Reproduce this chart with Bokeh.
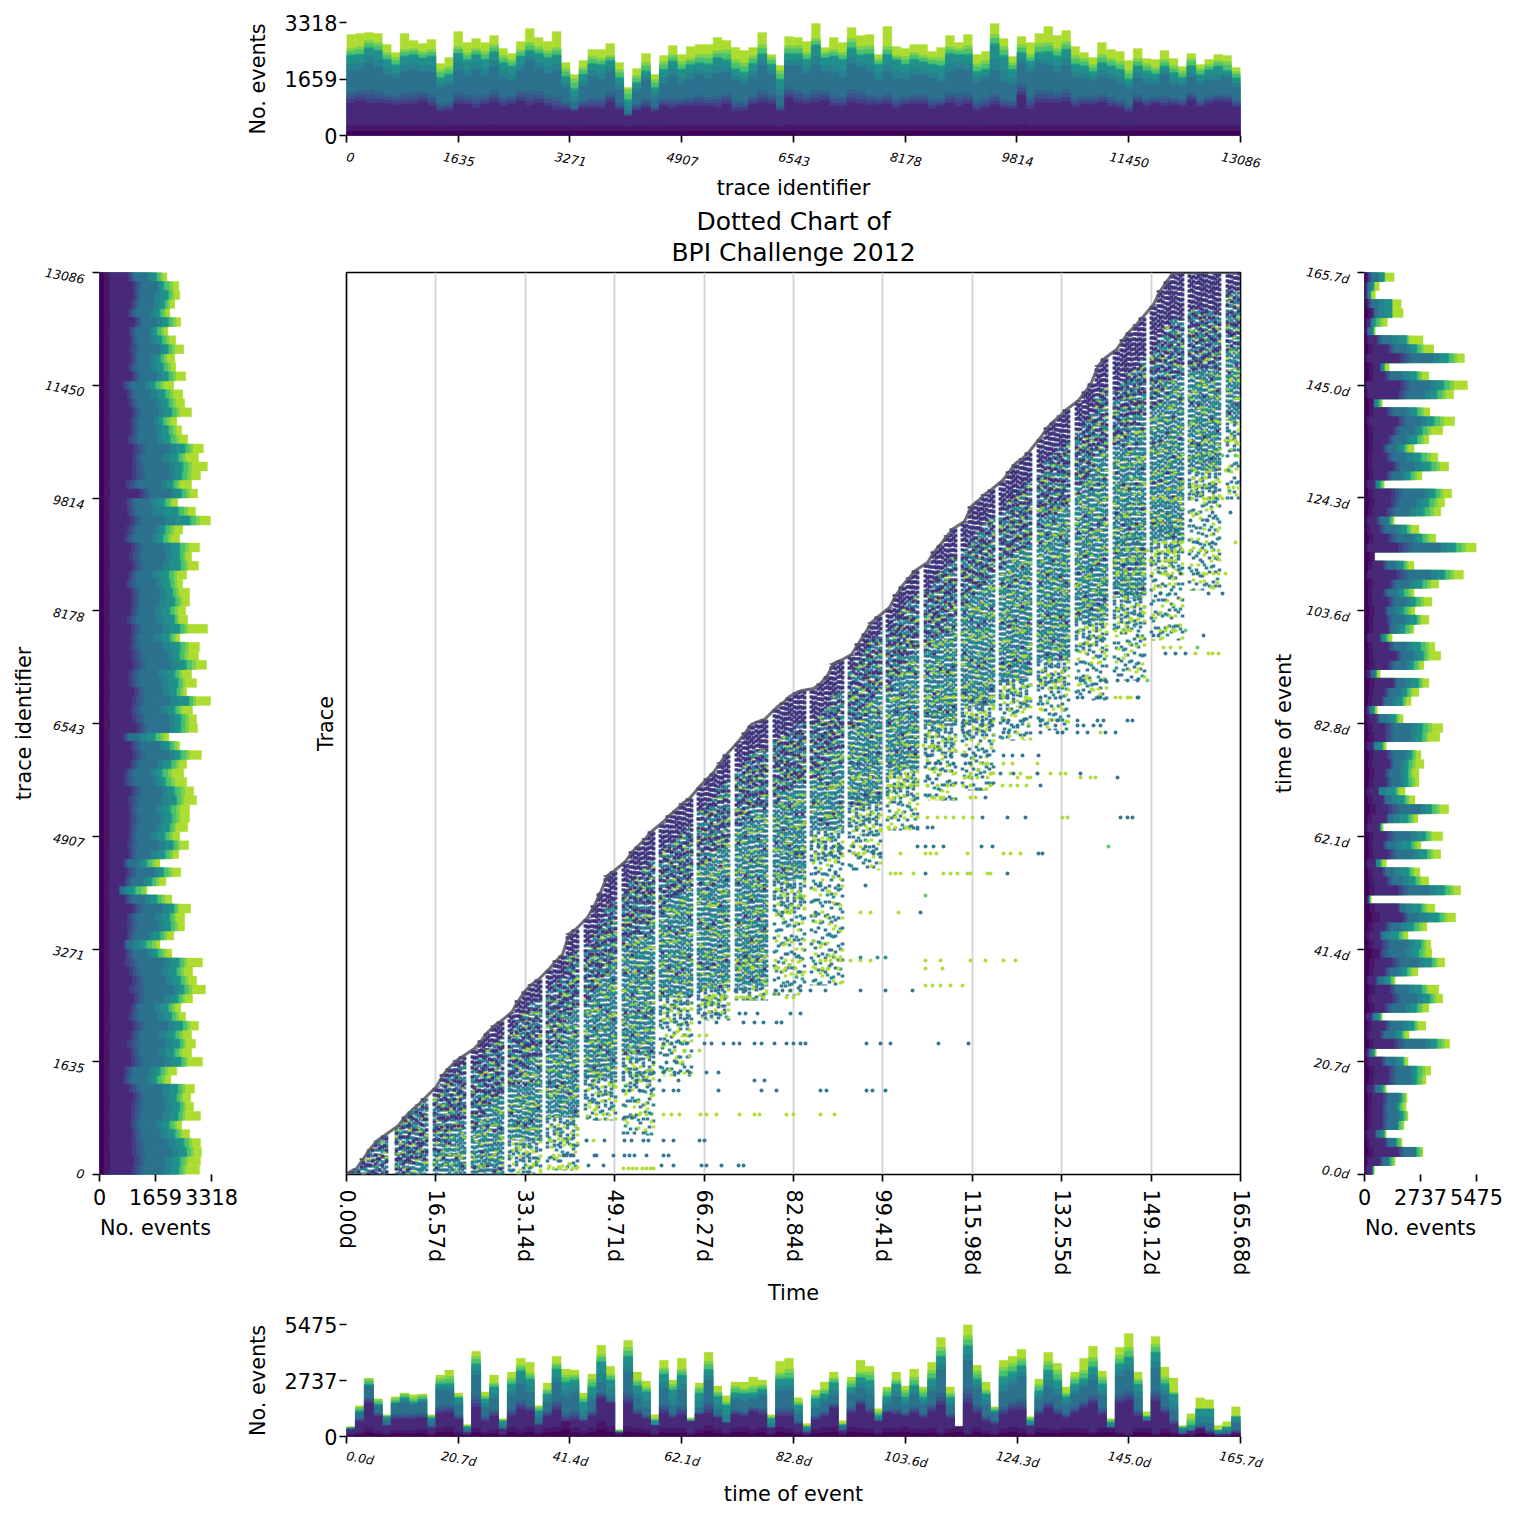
from math import pi
from bokeh.embed import file_html
from bokeh.resources import INLINE
from bokeh.layouts import column, row
from bokeh.models import ColumnDataSource, FixedTicker, LinearAxis, Range1d, Title
from bokeh.plotting import figure

MAX_TRACE = 13086
MAX_DAYS = 165.68
MAX_DAYS_HIST = 165.7
MAX_TRACE_HIST = 3318
MAX_TIME_HIST = 5475
def day(px): return (px - 346) * MAX_DAYS / 894
def tr(py): return (1174 - py) * MAX_TRACE / 902
def ev_trace(rs): return [(360 - r) * MAX_TRACE_HIST / 339 for r in rs]
def ev_time(rs): return [(351 - r) * MAX_TIME_HIST / 339 for r in rs]

trace_ticks = [0, 1635, 3271, 4907, 6543, 8178, 9814, 11450, 13086]
trace_labels = ["0", "1635", "3271", "4907", "6543", "8178", "9814", "11450", "13086"]
time_ticks = [0, 20.7, 41.4, 62.1, 82.8, 103.6, 124.3, 145.0, 165.7]
time_labels = ["0.0d", "20.7d", "41.4d", "62.1d", "82.8d", "103.6d", "124.3d", "145.0d", "165.7d"]
main_ticks = [0, 16.57, 33.14, 49.71, 66.27, 82.84, 99.41, 115.98, 132.55, 149.12, 165.68]
main_labels = ["0.00d", "16.57d", "33.14d", "49.71d", "66.27d", "82.84d", "99.41d", "115.98d", "132.55d", "149.12d", "165.68d"]

# ---- events per trace-identifier bin: level tops for each activity group ----
trace_total = ev_trace([57,54,51,54,87,111,54,75,84,72,144,126,48,81,69,81,60,99,114,78,39,66,78,48,141,177,135,102,102,84,141,216,159,114,177,120,90,117,93,87,87,66,75,96,105,96,51,117,150,63,
 66,78,24,96,66,81,36,60,57,117,33,93,99,87,87,108,96,60,81,57,117,108,24,69,123,63,81,54,33,60,45,93,111,126,81,102,108,135,99,129,132,105,129,153,114,147,132,117,120,156])
trace_green = ev_trace([99,93,75,81,111,126,102,99,108,102,162,153,93,111,99,108,87,120,132,102,81,93,105,96,159,189,156,123,129,120,162,222,180,141,192,138,117,138,129,117,117,105,102,132,141,120,87,126,165,90,
 90,111,69,108,102,111,69,93,90,129,93,120,123,111,120,126,126,93,99,90,144,135,57,93,141,87,117,84,81,99,78,120,129,147,117,129,138,165,129,144,156,132,150,165,129,159,147,135,138,168])
trace_teal = ev_trace([122,120,100,108,135,152,125,120,130,125,190,180,117,137,120,135,112,145,155,125,108,118,130,122,187,225,180,148,150,137,190,258,205,170,220,165,140,165,150,145,150,130,138,165,175,148,120,150,195,118,
 118,135,92,130,125,135,102,122,120,150,120,135,150,135,142,150,155,118,120,122,172,165,90,125,165,115,140,115,112,125,105,150,155,172,145,155,165,195,155,170,178,155,175,190,155,180,165,155,170,190])
trace_blue = ev_trace([165,162,142,155,178,190,168,162,168,170,218,210,165,182,162,180,155,185,195,165,135,160,175,165,215,258,212,182,192,170,222,285,228,195,245,205,180,205,190,178,190,175,170,195,205,185,150,178,240,150,
 150,175,148,168,175,185,145,155,170,195,170,190,192,180,178,188,200,170,160,165,200,190,165,200,205,145,172,145,150,172,150,185,190,195,182,190,205,220,188,205,205,178,205,210,185,205,195,195,185,215])
trace_purple = ev_trace([262,256,263,263,263,268,266,265,258,272,288,285,265,267,278,267,260,272,266,257,270,262,272,284,282,288,278,278,278,260,284,303,285,278,288,272,278,272,272,270,272,275,265,287,285,268,261,265,288,248,
 262,265,262,255,272,272,260,265,270,267,265,278,268,265,265,280,272,262,272,265,285,278,268,277,280,238,281,262,262,262,258,275,267,268,262,272,278,290,262,272,265,272,268,272,255,275,265,258,260,275])
trace_dark = ev_trace([330,328,330,331,330,330,331,330,329,331,332,331,330,330,331,330,328,331,330,329,330,330,330,331,331,332,331,331,330,330,331,333,331,330,332,331,330,330,330,330,330,330,330,331,331,330,329,330,332,328,
 330,331,330,329,330,331,329,330,330,330,329,331,330,330,330,331,331,329,330,330,332,331,329,331,331,328,331,329,329,330,329,330,330,331,330,330,331,332,330,330,330,330,330,331,329,330,330,330,330,331])
trace_base = ev_trace([347] * 100)

# ---- events per time bin ----
time_total = ev_time([321,258,174,237,285,231,219,225,222,285,165,150,219,315,93,216,165,297,156,114,126,258,189,108,147,150,219,162,75,138,330,60,156,183,285,120,180,114,294,189,96,198,228,186,186,171,180,285,123,114,
 234,312,210,186,156,303,171,120,138,267,201,156,198,147,201,126,51,201,324,12,135,186,261,120,108,87,291,177,96,129,201,156,114,78,153,297,81,39,156,276,48,141,174,318,282,234,240,318,306,261])
time_green = ev_time([323,262,177,240,288,235,222,234,226,288,174,168,228,318,108,228,189,300,174,135,159,262,207,129,165,165,232,177,102,162,333,81,180,201,297,144,192,147,297,201,123,216,246,198,207,198,195,291,159,147,
 246,318,225,207,174,312,183,156,156,276,207,180,210,171,210,150,81,219,327,45,153,210,264,141,129,114,294,192,123,150,219,171,150,111,171,300,105,81,177,288,72,171,216,321,297,267,267,330,321,288])
time_teal = ev_time([325,275,195,255,292,250,235,248,240,296,195,195,235,322,135,240,203,305,195,155,180,275,225,150,190,182,250,205,128,182,336,112,200,218,304,165,212,168,303,222,152,232,258,222,222,222,210,298,180,180,
 258,322,238,225,190,316,205,175,185,288,232,195,235,200,235,180,112,235,330,80,180,225,275,175,160,140,305,215,155,185,232,195,180,145,195,310,135,115,195,292,100,195,225,325,320,268,268,333,323,292])
time_blue = ev_time([328,280,198,258,305,252,248,255,248,305,212,212,258,330,165,262,235,322,228,192,218,295,248,188,228,218,292,240,188,228,340,155,235,262,320,205,258,210,315,265,180,270,308,240,245,240,228,322,212,210,
 285,330,265,245,228,320,225,205,225,300,255,230,258,225,255,215,150,258,335,122,205,255,280,215,195,170,315,240,200,225,255,225,200,180,225,320,170,150,235,300,145,225,270,330,330,310,310,340,335,310])
time_purple = ev_time([330,305,250,290,320,298,298,298,295,325,280,278,300,340,262,305,290,330,290,268,275,318,290,270,305,300,305,290,235,250,340,250,285,298,318,280,295,285,305,285,280,295,310,285,290,275,285,325,290,290,
 315,340,300,290,265,335,280,255,280,305,280,285,290,280,295,275,255,295,330,250,280,305,315,285,272,270,320,285,265,285,295,280,265,250,285,325,250,243,290,305,245,280,315,345,335,325,340,345,345,340])
time_dark = ev_time([345,340,325,335,342,332,332,332,330,342,325,322,338,345,325,338,332,345,322,332,322,340,325,322,305,325,335,325,305,320,342,320,325,330,342,325,328,325,342,330,318,328,338,325,322,330,325,342,322,328,
 338,345,330,325,322,342,322,325,328,340,325,326,322,328,330,326,340,328,320,342,325,335,342,328,322,328,342,325,328,330,325,326,328,338,325,325,340,345,325,325,343,328,340,345,345,330,342,350,350,342])
time_base = [v * 0.45 for v in time_dark]

# ---- working-day columns of the dotted chart: pixel readings of the outline ----
week_columns = [
 [350,356,363,370,377,384],[398,405,411,418,424],[436,443,449,456,462],[474,481,487,494,500],[511,518,525,531,538],
 [549,556,562,569,575],[587,594,600,607,613],[625,632,638,645,651],[662,669,676,682,689],[700,707,713,720,726],
 [738,745,751,758,764],[776,783,789,796,802],[813,820,827,833,840],[851,858,865,871,878],[889,896,902,909,915],
 [927,934,940,947,953],[964,971,978,984,991],[1002,1009,1015,1022,1028],[1040,1047,1053,1060,1066],[1078,1085,1091,1098,1104],
 [1116,1123,1129,1136,1142],[1153,1160,1167,1173,1180],[1191,1198,1204,1211,1217],[1229,1236]]
week_tops = [
 [1171,1168,1158,1148,1140,1135],[1125,1116,1110,1104,1098],[1086,1074,1067,1060,1056],[1048,1040,1032,1025,1021],[1012,1000,990,984,979],
 [968,960,954,933,929],[917,905,892,875,871],[861,851,845,838,831],[822,815,809,803,798],[785,778,772,762,754],
 [741,732,724,721,719],[707,702,696,692,690],[688,683,675,663,660],[654,643,632,622,616],[607,594,585,577,570],
 [562,551,544,535,528],[521,506,500,494,489],[480,471,463,458,452],[437,427,421,415,409],[400,391,382,365,358],
 [349,339,331,324,317],[304,290,280,272,272],[272,272,272,272,272],[272,272]]
week_purple = [1150,1125,1095,1065,1030,990,945,890,850,810,770,740,720,670,630,590,550,510,470,430,390,350,310,290]
week_dense = [1174,1174,1174,1174,1140,1117,1077,1055,997,988,985,880,830,805,770,725,705,677,660,620,597,540,470,420]
week_sparse = [1174,1174,1174,1174,1174,1170,1120,1135,1076,1020,1000,995,985,870,830,800,790,740,730,700,680,640,590,500]

sparse_rows = [
 (1168,"Y",[548,553,560,566,572,576,623,628,632,636,642,646,650,653]),
 (1165,"B",[588,603,661,673,701,706,721,738,743]),
 (1155,"B",[563,566,570,573,594,596,613,624,629,634,646,663,668]),
 (1155,"Y",[553,559]),
 (1140,"B",[586,604,624,631,643,648,663,673,699,704]),
 (1140,"Y",[586,593]),
 (1117,"B",[624,631]),
 (1114,"Y",[596,603,639,646,663,671,679,700,706,716,739,754,759,786,793,820,834]),
 (1090,"B",[623,629,639,651,663,673,678,718,761,776,820,826,866,872,885]),
 (1080,"B",[636,646,659,678,754,764]),
 (1072,"B",[623,629,639,653,663,674,689,706,718]),
 (1062,"B",[653,666,676]),
 (1050,"Y",[674,684,699]),
 (1043,"B",[663,671,686,704,711,723,733,739,754,761,774,786,793,800,805,866,880,890,938,968]),
 (1035,"Y",[666,673,686,699,706]),
 (1022,"B",[686,699,716,743,754,763,776,781]),
 (1013,"B",[704,716,739,745,757,790,800]),
 (997,"Y",[706,711,721,736,743,750,763,786,793]),
 (990,"B",[700,715,735,745,775,782,790,800,810,825,860,885,912]),
 (985,"Y",[925,932,940,950,962]),
 (968,"Y",[740,752,775,785,795,815,822,828,838,925,942]),
 (960,"Y",[737,745,752,760,775,785,792,800,820,825,830,840,850,860,870,925,940,970,985,1003,1015]),
 (957,"T",[860,877,885]),
 (912,"Y",[780,790,860,870,898]),
 (912,"B",[920,782,815]),
 (895,"G",[780,800,925]),
 (885,"B",[790,820,838,865]),
 (873,"Y",[890,895,900,913,943,950,957,967,970,987,990]),
 (873,"B",[925,1007,815,835]),
 (853,"Y",[853,858,863,900,925,930,936,967,1003,1010,1020]),
 (853,"B",[823,830,840,873,880,1038,1042]),
 (846,"B",[818,825,833,840,853,865,873,917,925,933,943,981,992]),
 (846,"G",[1108]),
 (827,"Y",[888,895,905]),
 (827,"B",[917,927,932]),
 (817,"Y",[888,895,917,927,937,945,953,963,972,1062,1067]),
 (817,"B",[982,1007,1025,1120,1127,1132]),
 (797,"B",[852,857,868,878,985]),
 (797,"Y",[888,893,932,940,943,970,975]),
 (785,"Y",[888,898,910,917,927,937,947,953,963,970,990,1002,1010,1017,1026]),
 (785,"B",[1040]),
 (777,"Y",[852,858,870,890,900,907,970,977,987,1017,1027,1030,1080,1090,1095]),
 (777,"B",[927,1117]),
 (773,"Y",[890,905,970,990,1010,1020,1037,1050,1060,1065]),
 (773,"B",[1000,1013,1037,1080]),
 (763,"B",[852,860,873,877,890,927,935,940,953,965,970]),
 (763,"Y",[987,1003,1012,1037]),
 (755,"B",[867,877,927,930,950,965,975,987,1003,1012,1022,1038]),
 (745,"Y",[907,917,923,932]),
 (732,"B",[963,967,1003,1008,1040,1057,1062,1077,1087,1105,1115]),
 (732,"Y",[1062,1100]),
 (725,"B",[963,982,992,1017,1040,1055,1077,1083,1093,1100]),
 (720,"B",[963,973,982,990,1003,1008,1023,1040,1057,1077,1097,1103,1127,1132]),
 (697,"Y",[927,945,953,963,970,980,990,1003,1025,1040,1115,1120,1127,1130]),
 (697,"B",[1007,1040,1060,1077,1082,1098,1100,1137,1138]),
 (680,"B",[1003,1007,1013,1023,1040,1055,1080,1083,1100,1105,1117,1127,1137]),
 (680,"Y",[1057,1060,1090]),
 (680,"G",[1147]),
 (653,"B",[1165,1175,1185]),
 (653,"Y",[1195,1208,1212,1218]),
 (647,"Y",[1163,1170,1180]),
 (647,"G",[1197]),
 (635,"B",[1137,1153,1158,1203]),
 (630,"Y",[1115,1122,1127,1130,1160,1165,1172,1175]),
 (630,"G",[1185]),
 (593,"B",[1127,1137,1160,1208,1222]),
 (573,"Y",[1117,1125,1133,1143,1152,1165,1172,1180,1197,1203,1213,1218,1225]),
 (573,"B",[1180,1197]),
 (560,"Y",[1115,1123,1133,1143,1150,1165,1168,1170,1175]),
 (550,"Y",[1117,1127,1137,1147,1157,1167,1175,1190,1200,1205,1212,1218]),
 (542,"B",[1117,1123,1133,1137,1197,1212]),
 (542,"Y",[1155,1165,1172,1180,1235]),
 (530,"B",[1160,1170,1175]),
 (520,"Y",[1153,1160,1180]),
 (520,"B",[1190,1207]),
 (512,"B",[1167,1212,1230]),
 (498,"Y",[1153,1165,1175,1180,1192,1203,1207,1212,1222]),
 (492,"B",[1197,1213]),
 (487,"Y",[1182,1195,1228,1233]),
 (470,"Y",[1195,1210,1225]),
 (455,"G",[1210,1222,1235]),
 (440,"Y",[1190,1205,1225,1235]),
 (405,"B",[1232,1238]),
 (380,"Y",[1230,1238]),
]

COL = {"Y": "#addc30", "G": "#5ec962", "T": "#21918c", "B": "#2c728e", "P": "#472d7b"}
FONT = "DejaVu Sans"
SMALL_PX = 12.5

def style_axis(ax):
    ax.axis_line_color = None
    ax.major_tick_line_color = "black"
    ax.major_tick_line_width = 1.67
    ax.major_tick_out = 7
    ax.major_tick_in = 0
    ax.minor_tick_line_color = None
    ax.axis_label_text_font = FONT
    ax.axis_label_text_font_size = "20.8px"
    ax.axis_label_text_font_style = "normal"
    ax.axis_label_text_color = "black"
    ax.major_label_text_font = FONT
    ax.major_label_text_color = "black"
    ax.major_label_text_font_size = "20.8px"
    ax.major_label_text_font_style = "normal"

def text_width(s):
    return sum(0.318 if ch == "." else 0.636 for ch in s) * SMALL_PX

def label_axis(positions, labels, axis_label, standoff, label_standoff):
    """Axis that carries only the small slanted labels; the tick marks stay on the figure's own axis."""
    ax = LinearAxis(ticker=FixedTicker(ticks=positions), major_label_overrides=dict(zip(positions, labels)), axis_label=axis_label)
    style_axis(ax)
    ax.major_tick_line_color = None
    ax.major_tick_out = 0
    ax.major_label_text_font_size = f"{SMALL_PX}px"
    ax.major_label_text_font_style = "italic"
    ax.major_label_orientation = -0.18
    ax.major_label_standoff = standoff
    ax.axis_label_standoff = label_standoff
    return ax

def layer_bounds(dark0, dark1, purple, blue, teal, green, total):
    """(colour, bar top) from the top of the stack downwards."""
    out = [("#addc30", total)]
    out.append(("#7ad151", green))
    out.append(("#4ac16d", [g + 0.35 * (t - g) for g, t in zip(green, teal)]))
    out.append(("#1fa187", [t + 0.18 * (g - t) for g, t in zip(green, teal)]))
    out.append(("#21908c", teal))
    out.append(("#26828e", [b + 0.45 * (t - b) for b, t in zip(blue, teal)]))
    out.append(("#2c728e", blue))
    out.append(("#33638d", [p + 0.33 * (b - p) for p, b in zip(purple, blue)]))
    out.append(("#3b528b", [p + 0.22 * (b - p) for p, b in zip(purple, blue)]))
    out.append(("#433e85", [p + 0.11 * (b - p) for p, b in zip(purple, blue)]))
    out.append(("#482979", purple))
    out.append(("#481769", dark1))
    out.append(("#440154", dark0))
    return out

def draw_hist(fig, layers, maximum, horizontal):
    lo = [maximum * i / 100 for i in range(100)]
    hi = [maximum * (i + 1) / 100 for i in range(100)]
    zero = [0] * 100
    for colour, tops in layers:
        if horizontal:
            fig.quad(left=zero, right=tops, bottom=lo, top=hi, fill_color=colour, line_color=colour, line_width=0.3)
        else:
            fig.quad(left=lo, right=hi, bottom=zero, top=tops, fill_color=colour, line_color=colour, line_width=0.3)

trace_layers = layer_bounds(trace_base, trace_dark, trace_purple, trace_blue, trace_teal, trace_green, trace_total)
time_layers = layer_bounds(time_base, time_dark, time_purple, time_blue, time_teal, time_green, time_total)

def hist_h(w, h, left, right, top, bottom, xmax, ymax, ticks, labels, xlabel, ytick, standoff, margin):
    f = figure(width=w, height=h, min_border_left=left, min_border_right=right, min_border_top=top,
               min_border_bottom=bottom, x_range=Range1d(0, xmax), y_range=Range1d(0, ymax),
               output_backend="svg", toolbar_location=None, outline_line_color=None, margin=margin)
    f.grid.visible = False
    f.xaxis.ticker = FixedTicker(ticks=ticks)
    f.xaxis.major_label_overrides = {t: "" for t in ticks}
    f.yaxis.ticker = FixedTicker(ticks=ytick)
    f.yaxis.axis_label = "No. events"
    style_axis(f.xaxis[0])
    style_axis(f.yaxis[0])
    f.xaxis.major_label_standoff = 0
    f.yaxis.major_label_standoff = 2
    f.yaxis.axis_label_standoff = 12
    # the labels hang from the tick centre in the reference
    pos = [round(max(0, t + (1 - text_width(s) / 2) * xmax / 894), 3) for t, s in zip(ticks, labels)]
    f.add_layout(label_axis(pos, labels, xlabel, standoff, 1), "below")
    return f

def hist_v(w, h, left, right, top, bottom, xmax, ymax, ticks, labels, ylabel, xtick):
    f = figure(width=w, height=h, min_border_left=left, min_border_right=right, min_border_top=top,
               min_border_bottom=bottom, x_range=Range1d(0, xmax), y_range=Range1d(0, ymax),
               output_backend="svg", toolbar_location=None, outline_line_color=None)
    f.grid.visible = False
    f.yaxis.ticker = FixedTicker(ticks=ticks)
    f.yaxis.major_label_overrides = {t: "" for t in ticks}
    f.xaxis.ticker = FixedTicker(ticks=xtick)
    f.xaxis.axis_label = "No. events"
    style_axis(f.yaxis[0])
    style_axis(f.xaxis[0])
    f.yaxis.major_label_standoff = 0
    f.xaxis.major_label_standoff = 7
    f.xaxis.axis_label_standoff = 8
    pos = [round(max(0, t - 7 * ymax / 902), 3) for t in ticks]
    f.add_layout(label_axis(pos, labels, ylabel, 8, 5), "left")
    return f

top = hist_h(1500, 203, 346, 260, 22, 68, MAX_TRACE, MAX_TRACE_HIST, trace_ticks, trace_labels, "trace identifier", [0, 1659, 3318], 14, (0, 0, -4, 0))
draw_hist(top, trace_layers, MAX_TRACE, False)
bot = hist_h(1500, 200, 346, 260, 15, 72, MAX_DAYS_HIST, MAX_TIME_HIST, time_ticks, time_labels, "time of event", [0, 2737, 5475], 12, (0, 0, 0, 0))
draw_hist(bot, time_layers, MAX_DAYS_HIST, False)
left = hist_v(299, 1110, 99, 88, 73, 135, MAX_TRACE_HIST, MAX_TRACE, trace_ticks, trace_labels, "trace identifier", [0, 1659, 3318])
draw_hist(left, trace_layers, MAX_TRACE, True)
right = hist_v(241, 1110, 99, 30, 73, 135, MAX_TIME_HIST, MAX_DAYS_HIST, time_ticks, time_labels, "time of event", [0, 2737, 5475])
draw_hist(right, time_layers, MAX_DAYS_HIST, True)

# ---- main dotted chart ----
main = figure(width=966, height=1110, min_border_left=47, min_border_right=25, min_border_top=73, min_border_bottom=135,
              x_range=Range1d(0, MAX_DAYS), y_range=Range1d(0, MAX_TRACE), output_backend="svg", toolbar_location=None)
main.outline_line_color = "black"
main.outline_line_width = 1.67
main.ygrid.visible = False
main.xgrid.ticker = FixedTicker(ticks=main_ticks)
main.xgrid.grid_line_color = "#d3d3d3"
main.xgrid.grid_line_width = 1.8
main.xaxis.ticker = FixedTicker(ticks=main_ticks)
main.xaxis.major_label_overrides = dict(zip(main_ticks, main_labels))
main.xaxis.axis_label = "Time"
main.yaxis.axis_label = "Trace"
main.yaxis.ticker = FixedTicker(ticks=[])
style_axis(main.xaxis[0])
style_axis(main.yaxis[0])
main.yaxis.major_tick_line_color = None
main.xaxis.major_label_orientation = -pi / 2
main.xaxis.major_label_standoff = 8
main.xaxis.axis_label_standoff = 3
main.yaxis.axis_label_standoff = 9
main.add_layout(Title(text="BPI Challenge 2012", align="center", text_font=FONT, text_font_size="25px",
                      text_font_style="normal", text_color="black", standoff=11), "above")
main.add_layout(Title(text="Dotted Chart of", align="center", text_font=FONT, text_font_size="25px",
                      text_font_style="normal", text_color="black", standoff=-10), "above")

def add_dash(px, y0, y1, colour, period, on=3, width=3.6, phase=0, alpha=0.95):
    # dash phase differs from column to column so that the dots do not line up in rows or diagonals
    offs = [(i * i * 5 + i * 3 + phase) % (on + period) for i in range(len(px))]
    data = dict(x0=[day(v) for v in px], x1=[day(v) for v in px], y0=[tr(v) for v in y0], y1=[tr(v) for v in y1], off=offs)
    main.segment("x0", "y0", "x1", "y1", source=ColumnDataSource(data), line_color=colour, line_width=width,
                 line_dash=f"{on} {period}", line_dash_offset="off", line_alpha=alpha)

a_x, m_x, b_x, s_t, s_b, d_t, d_b, p_t, p_b, mix_b, fade_b = [], [], [], [], [], [], [], [], [], [], []
for cols, tops, pb, db, sb in zip(week_columns, week_tops, week_purple, week_dense, week_sparse):
    for c, t in zip(cols, tops):
        # the purple zone keeps its depth below the outline across the week
        pc = max(pb - (tops[0] - t), t)
        a_x.append(c - 2.0); m_x.append(c); b_x.append(c + 2.0)
        s_t.append(max(db, t)); s_b.append(max(sb, t))
        d_t.append(pc); d_b.append(max(db, t))
        p_t.append(t); p_b.append(pc)
        mix_b.append(min(pc + 60, max(db, t)))
        fade_b.append(min(max(db, t) + 30, max(sb, t)))

# sparse tail below the dense body of each week
add_dash(a_x, s_t, s_b, COL["B"], 11)
add_dash(m_x, s_t, s_b, COL["T"], 17, phase=3)
add_dash(b_x, s_t, s_b, COL["B"], 13, phase=8)
add_dash(m_x, s_t, s_b, COL["Y"], 23, phase=5)
add_dash(b_x, s_t, s_b, COL["Y"], 29, phase=2)
add_dash(a_x, s_t, fade_b, COL["B"], 4, phase=4)
add_dash(b_x, s_t, fade_b, COL["Y"], 11, phase=6)
# dense body runs up to the outline and shows through the purple
add_dash(a_x, p_t, d_b, COL["B"], 2)
add_dash(m_x, p_t, d_b, COL["B"], 3, phase=2)
add_dash(b_x, p_t, d_b, COL["B"], 2, phase=5)
add_dash(a_x, d_t, d_b, COL["T"], 9, phase=3)
add_dash(b_x, d_t, d_b, COL["T"], 11, phase=6)
add_dash(m_x, d_t, d_b, COL["Y"], 21, on=2, width=3.8, phase=5)
add_dash(a_x, d_t, d_b, COL["Y"], 29, on=2, width=3.8, phase=9)
add_dash(b_x, d_t, d_b, COL["Y"], 25, on=2, width=3.8, phase=1)
add_dash(m_x, d_t, d_b, COL["P"], 37, phase=11)
add_dash(a_x, d_t, mix_b, COL["P"], 6, phase=3)
add_dash(b_x, d_t, mix_b, COL["P"], 8, phase=1)
# young traces near the case-start outline
add_dash(a_x, p_t, p_b, COL["P"], 2)
add_dash(m_x, p_t, p_b, COL["P"], 3, phase=2)
add_dash(b_x, p_t, p_b, COL["P"], 2, phase=4)

# individual dots
for cls in COL:
    xs, ys = [], []
    for py, c, pxs in sparse_rows:
        if c == cls:
            xs += [day(v) for v in pxs]
            ys += [tr(py)] * len(pxs)
    if xs:
        main.scatter(xs, ys, size=4, fill_color=COL[cls], line_color=None, fill_alpha=0.95)

# case-start outline
line_x = [day(346)] + [day(c) for cols in week_columns for c in cols]
line_y = [tr(1174)] + [tr(t) for tops in week_tops for t in tops]
main.line(line_x, line_y, line_color="#55545f", line_width=3, line_alpha=0.85)

page = column(top, row(left, main, right, spacing=0), bot, spacing=0)
open("out.html", "w").write(file_html(page, INLINE))
